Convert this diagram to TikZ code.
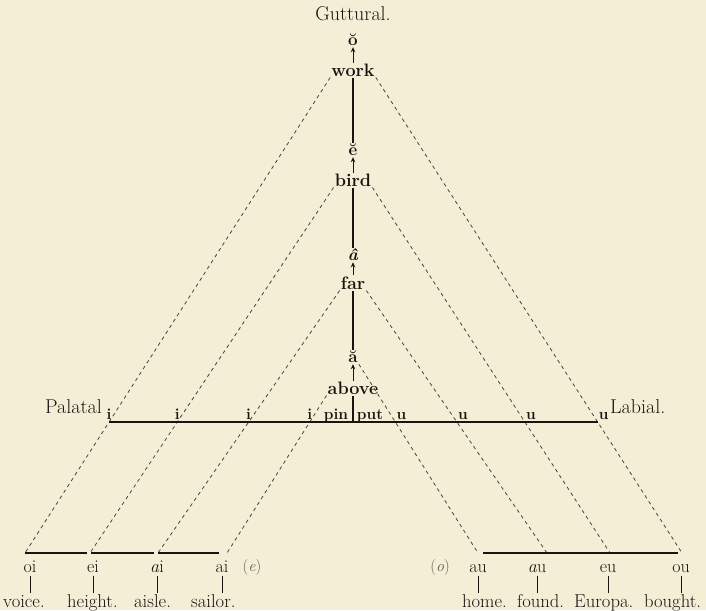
\documentclass[tikz,border=0pt]{standalone}
\usepackage{tikz}
\usetikzlibrary{arrows.meta,calc,intersections}
\definecolor{paper}{RGB}{244,238,214}
\definecolor{ink}{RGB}{24,21,17}
\tikzset{
  word/.style={inner sep=1pt,font=\fontsize{20}{22}\selectfont},
  key/.style={inner sep=1pt,font=\fontsize{18}{20}\selectfont\bfseries},
  vow/.style={inner sep=1pt,font=\fontsize{17}{19}\selectfont\bfseries},
  lbl/.style={inner sep=2pt,font=\fontsize{15.5}{18}\selectfont\bfseries},
  snd/.style={inner sep=1pt,text height=11pt,text depth=0pt,font=\fontsize{18}{20}\selectfont},
  ex/.style={inner sep=1pt,anchor=west,text height=13pt,text depth=4pt,font=\fontsize{18.6}{20}\selectfont},
  guide/.style={draw=ink!80,line width=.8pt,dash pattern=on 3.5pt off 3.5pt},
  stem/.style={draw=ink,line width=2pt},
  bar/.style={draw=ink,line width=2.4pt},
  seg/.style={draw=ink,line width=1.8pt},
  tick/.style={draw=ink,line width=.9pt},
  arr/.style={-{Stealth[length=5pt,width=4.5pt]},line width=.9pt},
}
\begin{document}
\begin{tikzpicture}[x=1pt,y=-1pt,color=ink]
  \fill[paper] (0,0) rectangle (706,610);
  \useasboundingbox (0,0) rectangle (706,610);
  \node[word] (gutt) at (353,14) {Guttural.};
  \node[vow] (vo) at (353,40) {\u{o}};
  \node[key] (work) at (353,70) {work};
  \node[vow] (ve) at (353,150) {\u{e}};
  \node[key] (bird) at (353,180) {bird};
  \node[vow] (va) at (353,255) {\textit{\^a}};
  \node[key] (far) at (353,283) {far};
  \node[vow] (vaa) at (353,357) {\u{a}};
  \node[key] (above) at (353,388) {above};
  \foreach \w/\v in {work/vo,bird/ve,far/va,above/vaa} \draw[arr] (\w.north) -- (\v.south);
  \foreach \w/\v in {work/ve,bird/va,far/vaa} \draw[stem] (\w.south) -- (\v.north);

  \coordinate (pl) at (0,422); \coordinate (pr) at (706,422);
  \path[name path global=hz] (pl) -- (pr);
  \foreach \x [count=\k] in {25,90,158,227} \coordinate (b\k) at (\x,553);
  \foreach \x [count=\k] in {682,610,547,478} \coordinate (c\k) at (\x,553);
  \foreach \s/\k in {work/1,bird/2,far/3,above/4} {
    \draw[guide,name path=gl] (\s.south west) -- (b\k);
    \path[name intersections={of=gl and hz,by={i\k}}];
  }
  \foreach \s/\k in {work/1,bird/2,far/3,vaa/4} {
    \draw[guide,name path=gr] (\s.south east) -- (c\k);
    \path[name intersections={of=gr and hz,by={u\k}}];
  }
  \draw[bar] (i1) -- (u1);
  \draw[stem] (above.south) -- (above.south |- pl);
  \foreach \k in {1,...,4} \node[lbl,anchor=south] (ti\k) at (i\k) {i};
  \foreach \k in {1,...,4} \node[lbl,anchor=south west] (tu\k) at ([xshift=-1pt]u\k) {u};
  \node[lbl,anchor=base] (pin) at (336,419) {pin};
  \node[lbl,anchor=base] (put) at (370,419) {put};
  \node[word,anchor=base east] (pal) at (103,413) {Palatal};
  \node[word,anchor=base west] (lab) at (609,413) {Labial.};

  \draw[seg,shorten >=3pt] (b1) -- (b2);
  \draw[seg,shorten <=1pt,shorten >=4pt] (b2) -- (b3);
  \draw[seg,shorten >=8pt] (b3) -- (b4);
  \draw[seg,shorten <=5pt] (c4) -- (c3);
  \draw[seg] (c3) -- (c2);
  \draw[seg,shorten >=4pt] (c2) -- (c1);
  \foreach \x/\t [count=\k] in {30/oi,93/ei,157/\textit{a}i,222/ai,478/au,537/\textit{a}u,608/eu,681/ou}
    \node[snd] (so\k) at (\x,567) {\t};
  \node[word,font=\fontsize{16}{18}\selectfont,color=ink!70] (pe) at (252,567) {(\textit{e})};
  \node[word,font=\fontsize{16}{18}\selectfont,color=ink!70] (po) at (440,567) {(\textit{o})};
  \foreach \x/\t [count=\k] in {2/voice.,66/height.,133/aisle.,190/sailor.,461/home.,516/found.,573/Europa.,643/bought.}
    \node[ex] (wd\k) at (\x,603) {\t};
  \foreach \k in {1,...,8} \draw[tick] ([yshift=-2pt]so\k.south) -- (so\k.south |- wd\k.north);
\end{tikzpicture}
\end{document}
